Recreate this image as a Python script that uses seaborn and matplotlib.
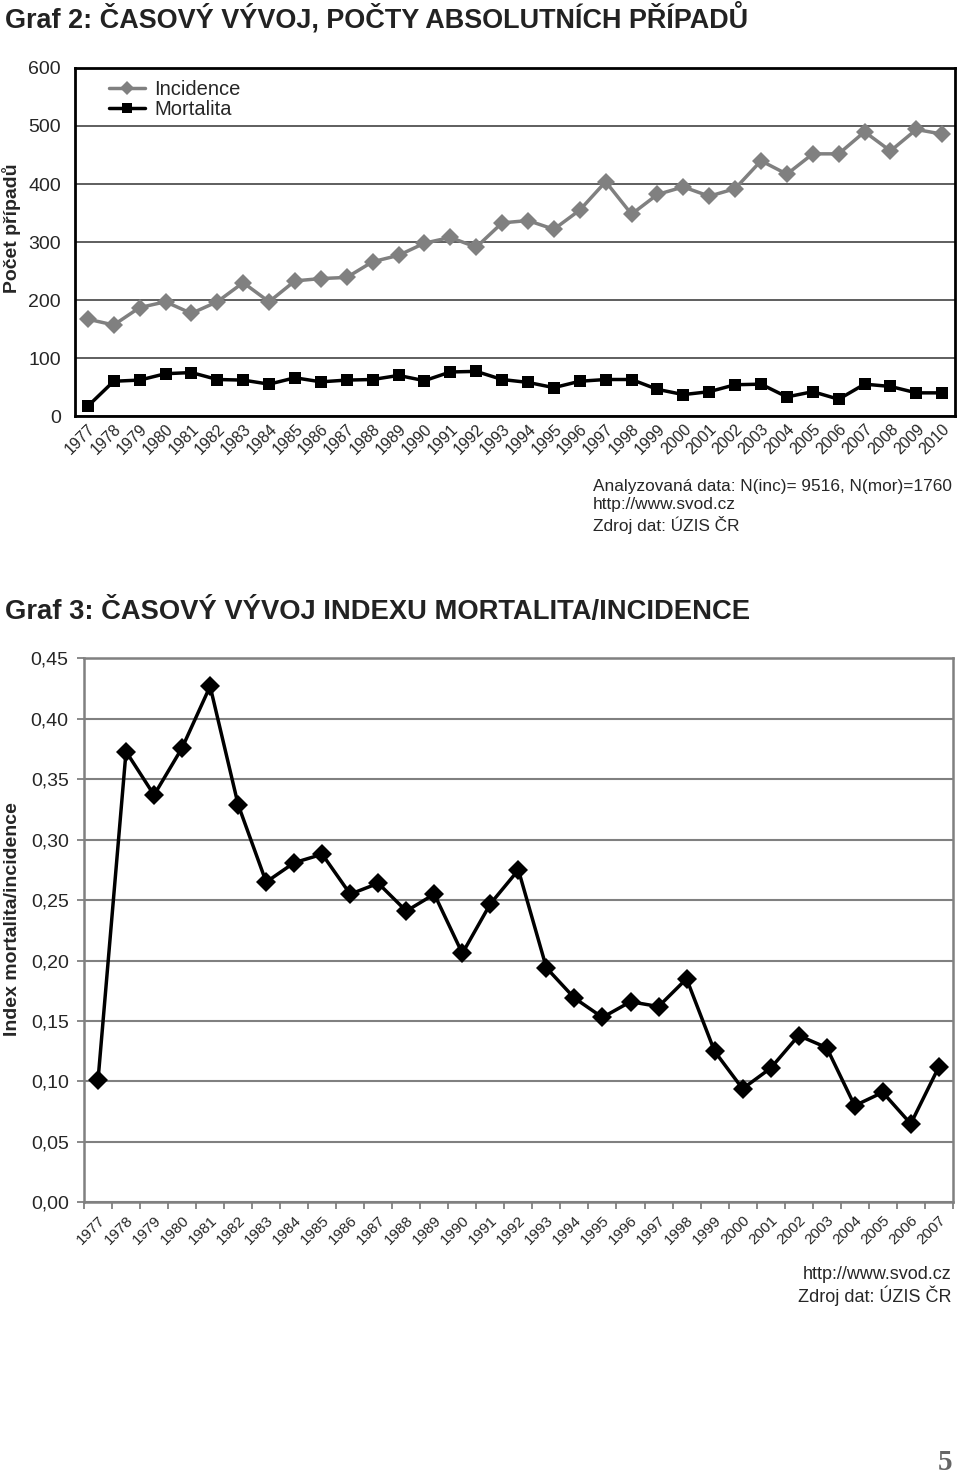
import pandas as pd
import numpy as np
import seaborn as sns
import matplotlib.pyplot as plt
from matplotlib import font_manager
from matplotlib.ticker import FixedLocator

# Graf 2 - absolutni pocty
roky = list(range(1977, 2011))
incidence = [167, 157, 187, 197, 177, 197, 230, 197, 233, 237, 239, 266, 277, 298, 308, 291,
             333, 337, 322, 355, 404, 348, 382, 395, 379, 392, 440, 417, 452, 452, 490, 457, 494, 486]
mortalita = [17, 60, 62, 73, 75, 63, 62, 55, 66, 59, 62, 63, 70, 61, 76, 77,
             63, 58, 49, 60, 63, 63, 46, 37, 42, 54, 55, 33, 42, 29, 55, 51, 40, 40]
pocty_ticks = [0, 100, 200, 300, 400, 500, 600]

# Graf 3 - index mortalita/incidence
roky_idx = list(range(1977, 2008))
index_mi = [0.101, 0.373, 0.337, 0.376, 0.427, 0.329, 0.265, 0.281, 0.288, 0.255, 0.264,
            0.241, 0.255, 0.206, 0.247, 0.275, 0.194, 0.169, 0.153, 0.166, 0.162, 0.185,
            0.125, 0.094, 0.111, 0.138, 0.128, 0.080, 0.091, 0.065, 0.112]
index_ticks = [0.0, 0.05, 0.10, 0.15, 0.20, 0.25, 0.30, 0.35, 0.40, 0.45]
index_labels = ['0,00', '0,05', '0,10', '0,15', '0,20', '0,25', '0,30', '0,35', '0,40', '0,45']

sns.set_style('white')
plt.rcParams['font.family'] = ['Liberation Sans', 'DejaVu Sans']

# uzsi font na nadpisy, pokud je k dispozici
nazvy = {f.name for f in font_manager.fontManager.ttflist}
font_nadpis = 'Liberation Sans Narrow' if 'Liberation Sans Narrow' in nazvy else 'Liberation Sans'

fig = plt.figure(figsize=(9.6, 14.78), dpi=100)

# ---------- Graf 2 ----------
df = pd.DataFrame({'rok': roky * 2,
                   'pocet': incidence + mortalita,
                   'serie': ['Incidence'] * len(roky) + ['Mortalita'] * len(roky)})
ax1 = fig.add_axes([0.078, 0.7185, 0.917, 0.2355])
sns.lineplot(data=df, x='rok', y='pocet', hue='serie', style='serie',
             palette={'Incidence': '#808080', 'Mortalita': 'black'},
             markers={'Incidence': 'D', 'Mortalita': 's'}, dashes=False,
             markersize=9, markeredgewidth=0, linewidth=2.5, ax=ax1)
ax1.set_xlim(1976.5, 2010.5)
ax1.set_ylim(0, 600)
ax1.set_yticks(pocty_ticks)
ax1.set_xticks(roky)
ax1.set_xticklabels([str(r) for r in roky], rotation=45, ha='right',
                    rotation_mode='anchor', fontsize=11.5)
ax1.tick_params(axis='y', labelsize=14, length=0, pad=10)
ax1.tick_params(axis='x', length=0, pad=4)
ax1.yaxis.grid(True, color='#333333', linewidth=1.1)
for s in ax1.spines.values():
    s.set_color('black')
    s.set_linewidth(2)
ax1.set_xlabel('')
ax1.set_ylabel('Počet případů', fontsize=14, fontweight='bold')
ax1.yaxis.set_label_coords(-0.061, 0.54)
leg = ax1.legend(loc='upper left', frameon=False, fontsize=14.5, handlelength=1.8,
                 handletextpad=0.45, borderaxespad=0.2, bbox_to_anchor=(0.025, 1.0),
                 labelspacing=0.05)
for h in leg.legend_handles:
    h.set_markersize(7)

fig.text(593 / 960, 1 - 479 / 1478, 'Analyzovaná data: N(inc)= 9516, N(mor)=1760\n'
         'http://www.svod.cz\nZdroj dat: ÚZIS ČR',
         fontsize=12.4, va='top', linespacing=1.25)

# ---------- Graf 3 ----------
df2 = pd.DataFrame({'rok': roky_idx, 'index': index_mi})
ax2 = fig.add_axes([0.0875, 0.1865, 0.905, 0.368])
sns.lineplot(data=df2, x='rok', y='index', color='black', marker='D',
             markersize=10, markeredgewidth=0, linewidth=2.5, ax=ax2)
ax2.set_xlim(1976.5, 2007.5)
ax2.set_ylim(0, 0.45)
ax2.set_yticks(index_ticks)
ax2.set_yticklabels(index_labels)
ax2.set_xticks(roky_idx)
ax2.set_xticklabels([str(r) for r in roky_idx], rotation=45, ha='right',
                    rotation_mode='anchor', fontsize=11)
ax2.xaxis.set_minor_locator(FixedLocator(np.arange(1976.5, 2008, 1)))
ax2.tick_params(axis='x', which='major', length=0, pad=8)
ax2.tick_params(axis='x', which='minor', length=5, color='#808080', width=1.3, bottom=True)
ax2.tick_params(axis='y', labelsize=14, length=5, color='#808080', width=1.3, pad=6, left=True)
ax2.yaxis.grid(True, color='#808080', linewidth=1.5)
for s in ax2.spines.values():
    s.set_color('#808080')
    s.set_linewidth(1.8)
ax2.set_xlabel('')
ax2.set_ylabel('Index mortalita/incidence', fontsize=14, fontweight='bold')
ax2.yaxis.set_label_coords(-0.073, 0.52)

fig.text(952 / 960, 1 - 1266 / 1478, 'http://www.svod.cz\nZdroj dat: ÚZIS ČR',
         fontsize=13, ha='right', va='top', linespacing=1.15)

fig.text(952 / 960, 1 - 1462 / 1478, '5', fontsize=21, ha='right', va='center',
         color='#666666', fontweight='bold', family=['Liberation Serif', 'DejaVu Serif'])

# nadpisy - sirka dorovnana na cca 745 px
renderer = fig.canvas.get_renderer()
for y_px, txt in [(18, 'Graf 2: ČASOVÝ VÝVOJ, POČTY ABSOLUTNÍCH PŘÍPADŮ'),
                  (612, 'Graf 3: ČASOVÝ VÝVOJ INDEXU MORTALITA/INCIDENCE')]:
    t = fig.text(5 / 960, 1 - y_px / 1478, txt, fontsize=19, fontweight='bold',
                 family=[font_nadpis, 'DejaVu Sans'], va='center', color='#222222')
    w = t.get_window_extent(renderer).width
    t.set_fontsize(min(22, 19 * 745 / w))

plt.savefig('out.png', dpi=100)
